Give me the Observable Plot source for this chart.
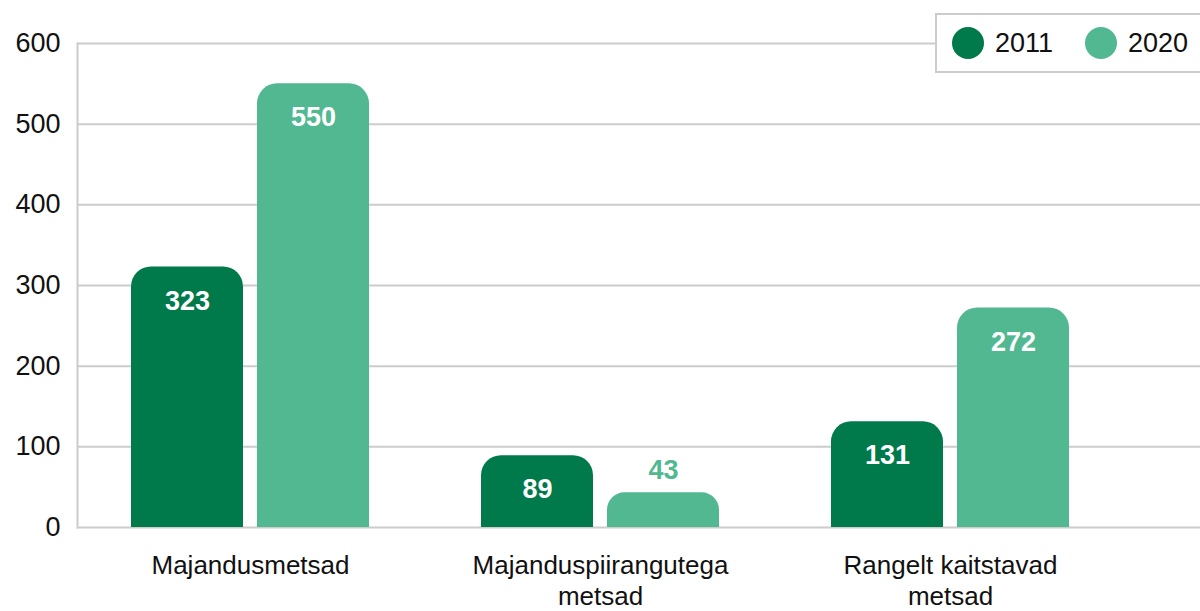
<!DOCTYPE html>
<html>
<head>
<meta charset="utf-8">
<script src="https://cdn.jsdelivr.net/npm/d3@7"></script>
<script src="https://cdn.jsdelivr.net/npm/@observablehq/plot@0.6"></script>
<style>
  html, body { margin: 0; padding: 0; background: #fff; }
  #wrap { position: relative; width: 1200px; height: 611px; overflow: hidden; font-family: "Liberation Sans", Arial, sans-serif; }
  #legend { position: absolute; left: 935px; top: 13px; width: 290px; height: 56px; border: 2px solid #ccc; background: #fff; box-sizing: content-box; }
  #legend .item { position: absolute; top: 0; height: 56px; display: flex; align-items: center; font-size: 27px; color: #111; }
  #legend .dot { width: 32px; height: 32px; border-radius: 50%; margin-right: 11px; }
</style>
</head>
<body>
<div id="wrap"></div>
<script>
const categories = ["Majandusmetsad", "Majanduspiirangutega\nmetsad", "Rangelt kaitstavad\nmetsad"];
const years = ["2011", "2020"];
const values2011 = [323, 89, 131];
const values2020 = [550, 43, 272];
const yTicks = [0, 100, 200, 300, 400, 500, 600];
const colors = ["#017a4b", "#51b892"];

const data = categories.flatMap((c, i) => [
  {category: c, year: years[0], value: values2011[i]},
  {category: c, year: years[1], value: values2020[i]}
]);
const first = data.filter(d => d.year === years[0]);
const second = data.filter(d => d.year === years[1]);

const barInset = 126;   // each year's bar takes its half of the group band
const labelShift = 63;

function labels(rows, dx) {
  return [
    Plot.text(rows.filter(d => d.value >= 60), {x: "category", y: "value", text: d => String(d.value), fill: "white", fontWeight: "bold", fontSize: 27, dx, dy: 34}),
    Plot.text(rows.filter(d => d.value < 60), {x: "category", y: "value", text: d => String(d.value), fill: colors[1], fontWeight: "bold", fontSize: 27, dx, dy: -22})
  ];
}

const chart = Plot.plot({
  width: 1200,
  height: 611,
  marginLeft: 77,
  marginRight: 0,
  marginTop: 43,
  marginBottom: 84,
  style: {fontFamily: "'Liberation Sans', Arial, sans-serif", fontSize: "26px", color: "#111", background: "#fff"},
  x: {domain: categories, range: [75, 1126], paddingInner: 0.319, paddingOuter: 0.157, label: null},
  y: {domain: [0, 600], label: null},
  color: {domain: years, range: colors},
  marks: [
    Plot.ruleY(yTicks, {stroke: "#cccccc", strokeWidth: 2}),
    Plot.frame({anchor: "left", stroke: "#cccccc", strokeWidth: 2}),
    Plot.axisY({ticks: yTicks, tickSize: 0, tickPadding: 17, fontSize: 27, label: null}),
    Plot.axisX({tickSize: 0, tickPadding: 25, lineAnchor: "top", lineHeight: 1.17, fontSize: 26, label: null}),
    Plot.barY(first, {x: "category", y: "value", fill: "year", insetRight: barInset}),
    Plot.barY(second, {x: "category", y: "value", fill: "year", insetLeft: barInset}),
    ...labels(first, -labelShift),
    ...labels(second, labelShift)
  ]
});

// round the top corners of the bars
chart.querySelectorAll('g[aria-label="bar"] rect').forEach(r => {
  const x = +r.getAttribute("x"), y = +r.getAttribute("y");
  const w = +r.getAttribute("width"), h = +r.getAttribute("height");
  const rr = Math.min(20, w / 2, h / 2);
  const p = document.createElementNS("http://www.w3.org/2000/svg", "path");
  for (const a of r.attributes) {
    if (!["x", "y", "width", "height"].includes(a.name)) p.setAttribute(a.name, a.value);
  }
  p.setAttribute("d", `M${x},${y + h}V${y + rr}A${rr},${rr} 0 0 1 ${x + rr},${y}H${x + w - rr}A${rr},${rr} 0 0 1 ${x + w},${y + rr}V${y + h}Z`);
  r.replaceWith(p);
});

const wrap = document.getElementById("wrap");
wrap.appendChild(chart);

const legend = document.createElement("div");
legend.id = "legend";
const offsets = [15, 148];
years.forEach((yr, i) => {
  const item = document.createElement("div");
  item.className = "item";
  item.style.left = offsets[i] + "px";
  const dot = document.createElement("span");
  dot.className = "dot";
  dot.style.background = colors[i];
  const label = document.createElement("span");
  label.textContent = yr;
  item.appendChild(dot);
  item.appendChild(label);
  legend.appendChild(item);
});
wrap.appendChild(legend);
</script>
</body>
</html>
